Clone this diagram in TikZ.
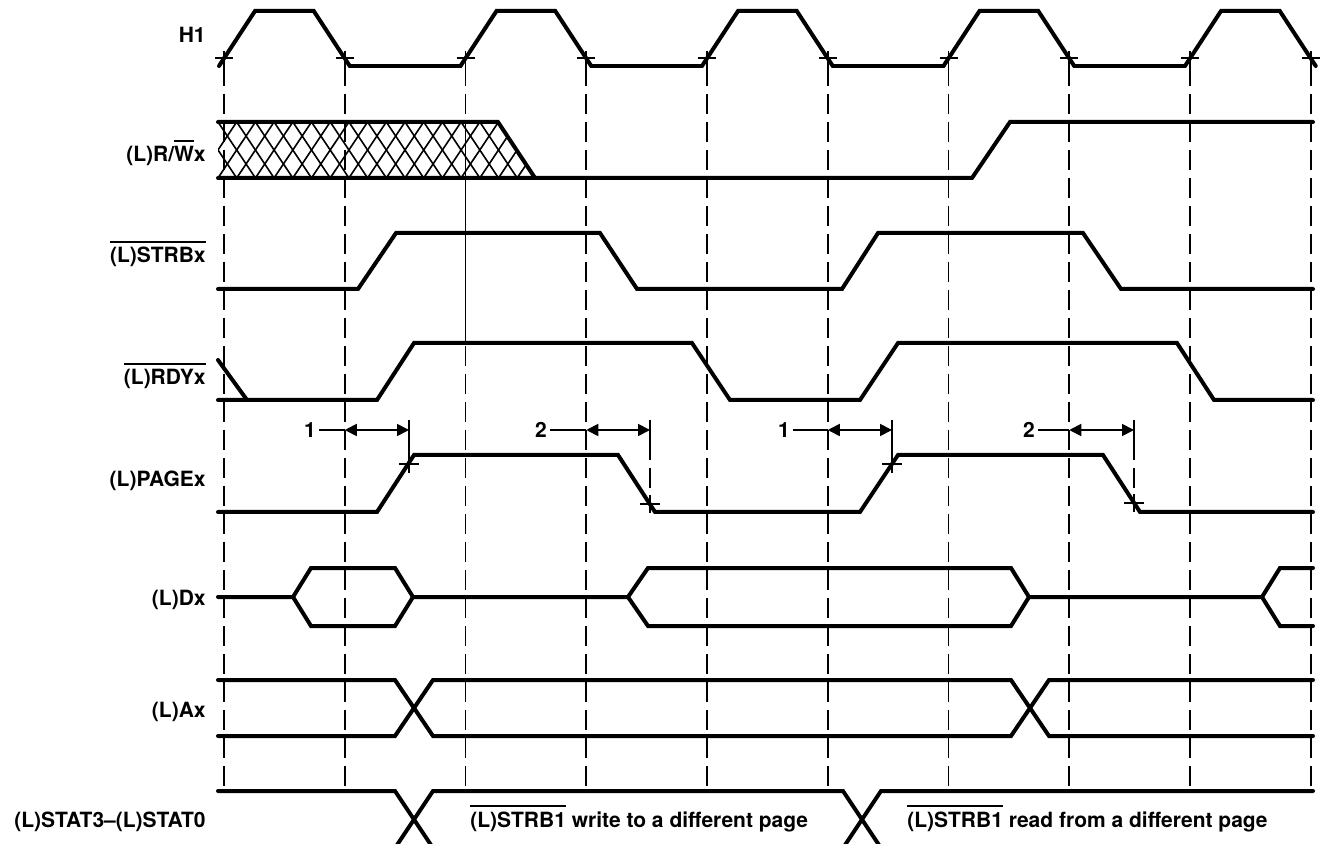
\documentclass[tikz,border=0pt]{standalone}
\usepackage{fontspec}
\setmainfont{TeX Gyre Heros}
\usetikzlibrary{arrows.meta}
\newcommand\sigfont{\fontsize{10.5}{12}\selectfont\bfseries}
\newcommand\activelow[1]{\vbox{\hrule height 0.9pt\kern 2.4pt\hbox{#1}}}
\tikzset{
  wave/.style={line width=2pt, line cap=round},
  guide/.style={line width=0.9pt, dash pattern=on 10pt off 4pt},
  hatchline/.style={line width=0.8pt},
  leader/.style={line width=0.9pt},
  sig/.style={anchor=base east, inner sep=0pt, font=\sigfont},
  note/.style={anchor=base west, inner sep=0pt, font=\sigfont},
  num/.style={inner sep=0pt, font=\sigfont},
  delay/.style={{Triangle[length=6pt,width=6pt]}-{Triangle[length=6pt,width=6pt]}, line width=0.9pt},
}

\begin{document}
\begin{tikzpicture}[x=0.5pt, y=-0.5pt]
  \useasboundingbox (0,0) rectangle (1323,844);
  \clip (0,0) rectangle (1323,844);

  % signal names
  \node[sig] (h1)   at (206,43)  {H1};
  \node[sig] (rw)   at (206,162) {(L)R/\activelow{W}x};
  \node[sig] (strb) at (206,263) {\activelow{(L)STRBx}};
  \node[sig] (rdy)  at (206,385) {\activelow{(L)RDYx}};
  \node[sig] (page) at (206,487) {(L)PAGEx};
  \node[sig] (dx)   at (206,605) {(L)Dx};
  \node[sig] (ax)   at (206,717) {(L)Ax};
  \node[sig] (stat) at (206,827) {(L)STAT3--(L)STAT0};

  % clock edges and guides
  \foreach \k in {0,...,9} {
    \pgfmathsetmacro\xk{224+120.75*\k}
    \draw[guide] (\xk,66) -- (\xk,791);
    \draw[leader] (\xk-9,58) -- (\xk+9,58) (\xk,51) -- (\xk,66);
  }
  \draw[leader] (465.5,122) -- (465.5,343);

  % H1
  \foreach \k in {0,2,4,6,8} {
    \pgfmathsetmacro\xa{224+120.75*\k}
    \pgfmathsetmacro\xb{\xa+120.75}
    \draw[wave] (\xa-5,66) -- (\xa+31,11) -- (\xb-31,11) -- (\xb+5,66);
  }
  \foreach \k in {1,3,5,7} {
    \pgfmathsetmacro\xa{224+120.75*\k}
    \draw[wave] (\xa+5,66) -- (\xa+115.75,66);
  }

  % R/W
  \begin{scope}
    \clip (218,122) -- (498,122) -- (535,178) -- (218,178) -- cycle;
    \foreach \k in {-1,...,20}
      \draw[hatchline] ({199.3+18.7*\k},122) -- ++(37.4,56) ({199.3+18.7*\k},122) -- ++(-37.4,56);
  \end{scope}
  \draw[wave] (218,122) -- (498,122) -- (535,178);
  \draw[wave] (218,178) -- (972,178) -- (1010,122) -- (1313,122);

  % STRB
  \draw[wave] (218,289) -- (358,289) -- (396,233) -- (600,233) -- (637,289) -- (842,289)
    -- (878,233) -- (1083,233) -- (1121,289) -- (1313,289);

  % RDY
  \draw[wave] (218,360) -- (247,400);
  \draw[wave] (218,400) -- (377,400) -- (414,343) -- (692,343) -- (730,400) -- (860,400)
    -- (898,343) -- (1177,343) -- (1214,400) -- (1313,400);

  % PAGE
  \draw[wave] (218,512) -- (377,512) -- (414,455) -- (618,455) -- (655,512) -- (860,512)
    -- (898,455) -- (1103,455) -- (1140,512) -- (1313,512);
  \foreach \n/\txt/\xl/\xs/\xe/\yc in {1/1/310/344.75/409/464, 2/2/541/586.25/650/504,
                                      3/1/784/827.75/892/464, 4/2/1029/1069.25/1134/503} {
    \node[num] (n\n) at (\xl,430) {\txt};
    \coordinate (s\n) at (\xs,430);
    \coordinate (e\n) at (\xe,430);
    \coordinate (c\n) at (\xe,\yc);
    \draw[leader] ([xshift=1.5pt]n\n.east) -- (s\n);
    \draw[delay] (s\n) -- (e\n);
    \draw[leader] (\xe,420) -- (\xe,440);
    \draw[guide] (\xe,440) -- (c\n);
    \draw[leader] ([xshift=-5pt]c\n) -- ([xshift=5pt]c\n) ([yshift=4.5pt]c\n) -- ([yshift=-4.5pt]c\n);
  }

  % Dx
  \draw[wave] (218,597) -- (293,597) -- (311,568) -- (395,568) -- (413,597) -- (628,597)
    -- (648,568) -- (1011,568) -- (1029,597) -- (1262,597) -- (1280,568) -- (1313,568);
  \draw[wave] (293,597) -- (311,626) -- (395,626) -- (413,597);
  \draw[wave] (628,597) -- (648,626) -- (1011,626) -- (1029,597);
  \draw[wave] (1262,597) -- (1280,626) -- (1313,626);

  % Ax
  \draw[wave] (218,680) -- (395,680) -- (433,736) -- (1011,736) -- (1049,680) -- (1313,680);
  \draw[wave] (218,736) -- (395,736) -- (433,680) -- (1011,680) -- (1049,736) -- (1313,736);

  % STAT
  \draw[wave] (218,791) -- (395,791) -- (433,848);
  \draw[wave] (395,848) -- (433,791) -- (843,791) -- (881,848);
  \draw[wave] (843,848) -- (881,791) -- (1313,791);
  \node[note] (wrnote) at (470,827) {\activelow{(L)STRB1} write to a different page};
  \node[note] (rdnote) at (907,827) {\activelow{(L)STRB1} read from a different page};
\end{tikzpicture}
\end{document}
